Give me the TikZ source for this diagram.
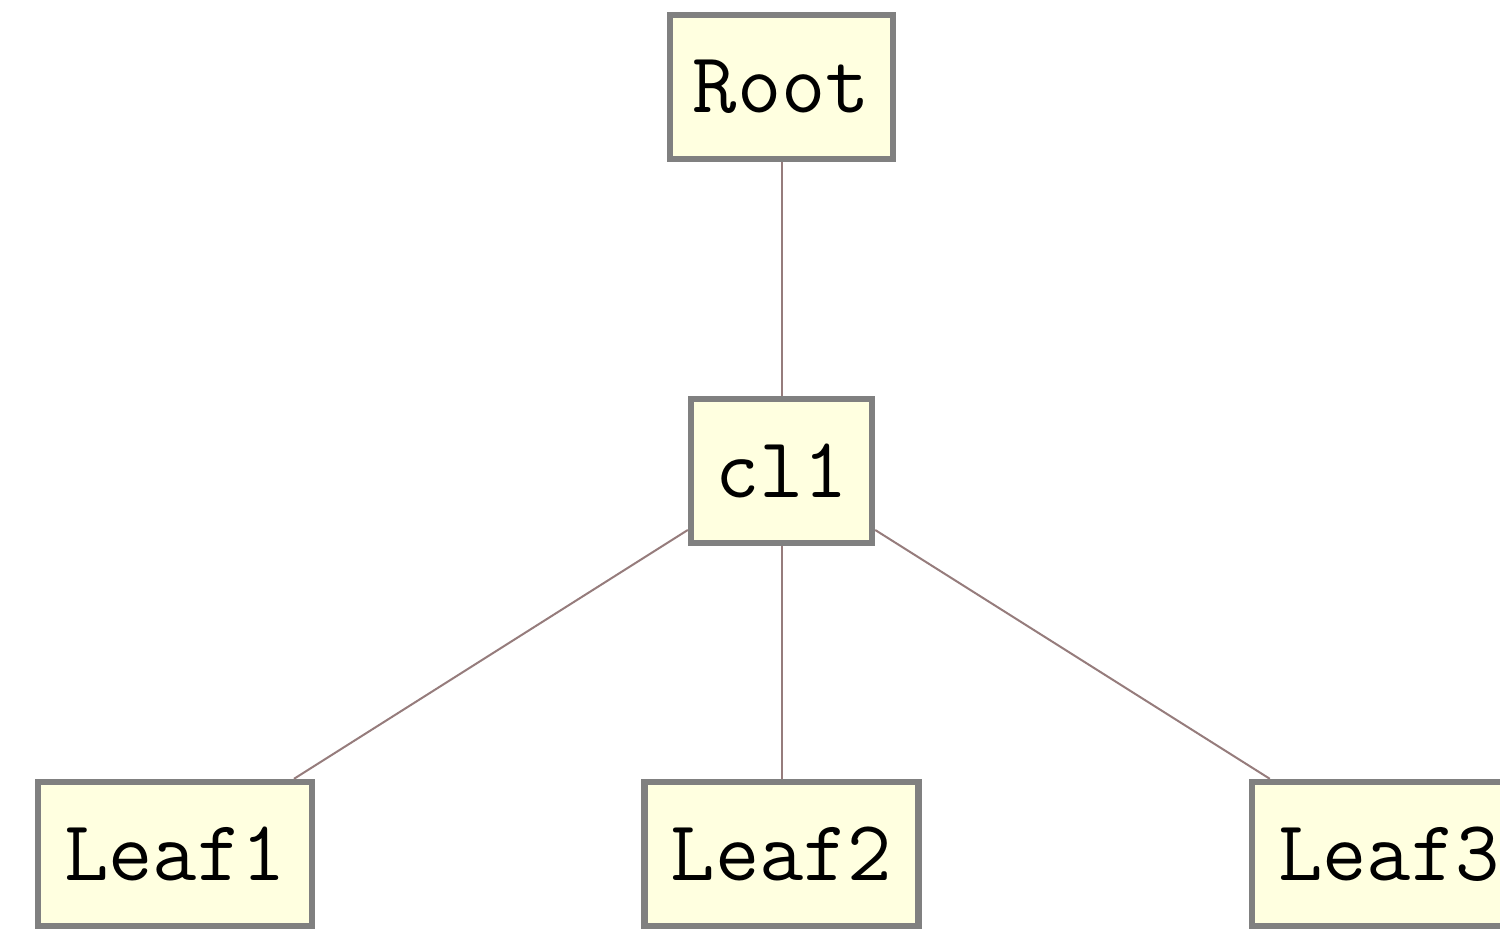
\documentclass[tikz,border=0pt]{standalone}
\usepackage{fontspec}
\definecolor{boxfill}{RGB}{255,255,224}
\definecolor{boxline}{RGB}{128,128,128}
\definecolor{edgeline}{RGB}{150,124,124}
\tikzset{
  treenode/.style={draw=boxline, fill=boxfill, line width=3.2pt, minimum height=72pt,
    inner sep=0pt, font=\ttfamily\fontsize{43}{45}\selectfont},
  treeedge/.style={draw=edgeline, line width=1pt}
}
\begin{document}
\begin{tikzpicture}[x=0.5pt,y=-0.5pt]
  \useasboundingbox (0,0) rectangle (1500,933);
  \clip (0,0) rectangle (1500,933);
  \node[treenode, minimum width=111.5pt] (root) at (781.5,87) {Root};
  \node[treenode, minimum width=90.5pt] (cl1) at (781.5,471) {cl1};
  \node[treenode, minimum width=137pt] (leaf1) at (175,854) {Leaf1};
  \node[treenode, minimum width=137pt] (leaf2) at (781.5,854) {Leaf2};
  \node[treenode, minimum width=137pt] (leaf3) at (1389,854) {Leaf3};
  \draw[treeedge] (root) -- (cl1);
  \draw[treeedge] (cl1) -- (leaf1);
  \draw[treeedge] (cl1) -- (leaf2);
  \draw[treeedge] (cl1) -- (leaf3);
\end{tikzpicture}
\end{document}
